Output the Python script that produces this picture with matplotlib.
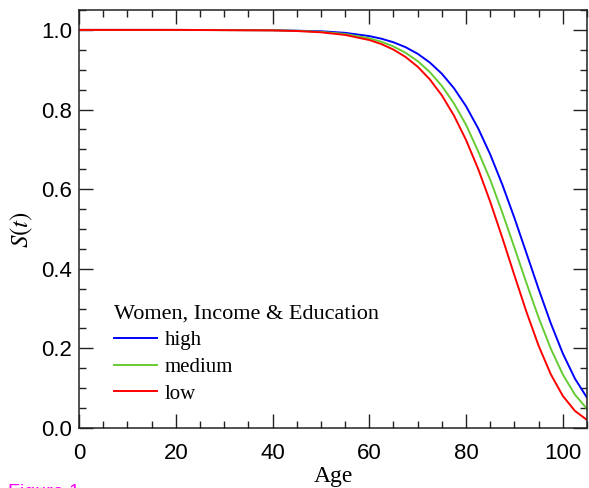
import matplotlib
matplotlib.use('Agg')
import matplotlib.pyplot as plt
from matplotlib.ticker import MultipleLocator, FormatStrFormatter

plt.rcParams['mathtext.fontset'] = 'stix'

# survival curves, S(t) by age
age = [0, 20, 40, 45, 50, 55, 60, 62.5, 65, 67.5, 70, 72.5, 75, 77.5,
       80, 82.5, 85, 87.5, 90, 92.5, 95, 97.5, 100, 102.5, 105]
s_high = [1.0, 1.0, 0.9993, 0.998, 0.9966, 0.9926, 0.9845, 0.9779, 0.9689,
          0.9566, 0.9401, 0.9182, 0.8899, 0.8536, 0.8083, 0.7528, 0.6871,
          0.6113, 0.5276, 0.4386, 0.3490, 0.2635, 0.1873, 0.1242, 0.0761]
s_medium = [1.0, 1.0, 0.999, 0.9978, 0.9951, 0.9897, 0.9789, 0.9702, 0.9584,
            0.9425, 0.9216, 0.8942, 0.8593, 0.8153, 0.7616, 0.6950, 0.6235,
            0.5411, 0.4530, 0.3635, 0.2774, 0.1997, 0.1344, 0.0839, 0.0481]
s_low = [1.0, 1.0, 0.9987, 0.9972, 0.9940, 0.9874, 0.9746, 0.9644, 0.9505,
         0.9320, 0.9076, 0.8759, 0.8355, 0.7849, 0.7235, 0.6509, 0.5681,
         0.4776, 0.3834, 0.2911, 0.2066, 0.1353, 0.0806, 0.0430, 0.0202]

groups = ['high', 'medium', 'low']
colors = ['#0000ff', '#66cc33', '#ff0000']

fig = plt.figure(figsize=(5.89, 4.88), dpi=100)
ax = fig.add_axes([79 / 589, 1 - 428 / 488, (587 - 79) / 589, (428 - 10) / 488])

for vals, name, col in zip([s_high, s_medium, s_low], groups, colors):
    ax.plot(age, vals, color=col, lw=1.4, label=name)

ax.set_xlim(0, 105)
ax.set_ylim(0, 1.05)
ax.xaxis.set_major_locator(MultipleLocator(20))
ax.xaxis.set_minor_locator(MultipleLocator(5))
ax.yaxis.set_major_locator(MultipleLocator(0.2))
ax.yaxis.set_minor_locator(MultipleLocator(0.05))
ax.yaxis.set_major_formatter(FormatStrFormatter('%.1f'))

ax.tick_params(which='both', direction='in', top=True, right=True, width=1, color='#222222')
ax.tick_params(which='major', length=10)
ax.tick_params(which='minor', length=4.7)
ax.tick_params(axis='x', pad=10.5)
ax.tick_params(axis='y', pad=5)
for lab in ax.get_xticklabels() + ax.get_yticklabels():
    lab.set_family('Liberation Sans')
    lab.set_fontsize(16)
for sp in ax.spines.values():
    sp.set_linewidth(1.1)
    sp.set_color('#222222')

ax.set_xlabel('Age', family='Liberation Serif', fontsize=17, labelpad=1.5)
ax.set_ylabel('$S(t)$', fontsize=18)
ax.yaxis.set_label_coords(-0.086, 0.474)

leg = ax.legend(title='Women, Income & Education', loc='lower left',
                bbox_to_anchor=(0.068, 0.058), frameon=False,
                prop={'family': 'Liberation Serif', 'size': 15},
                handlelength=2.1, handletextpad=0.35, labelspacing=0.35,
                borderaxespad=0, borderpad=0)
leg.get_title().set_family('Liberation Serif')
leg.get_title().set_fontsize(16)
leg._legend_box.align = 'left'

fig.text(8 / 589, -9 / 488, 'Figure 1', color='#ff00ff', fontsize=14,
         family='Liberation Sans', va='baseline')

fig.savefig('out.png', dpi=100)
